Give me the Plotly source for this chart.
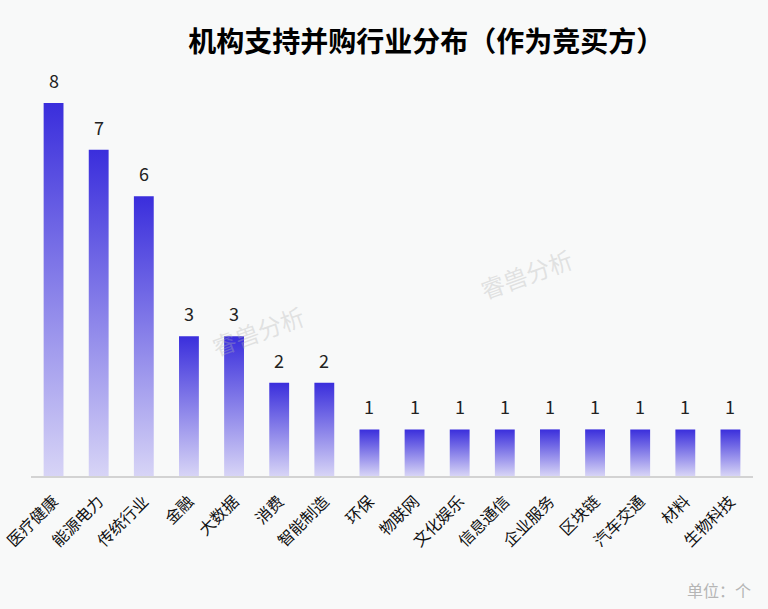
import plotly.graph_objects as go

# industry distribution of institutions acting as bidders
categories = ["医疗健康", "能源电力", "传统行业", "金融", "大数据", "消费", "智能制造", "环保",
              "物联网", "文化娱乐", "信息通信", "企业服务", "区块链", "汽车交通", "材料", "生物科技"]
counts = [8, 7, 6, 3, 3, 2, 2, 1, 1, 1, 1, 1, 1, 1, 1, 1]

bar_w = 0.44
top_color = "#3a2edc"
bottom_color = "#d7d4f6"
bg = "#f8f9f9"

fig = go.Figure()

# one filled trace per bar so the gradient runs over each bar separately
for i, v in enumerate(counts):
    x0, x1 = i - bar_w / 2, i + bar_w / 2
    fig.add_trace(go.Scatter(
        x=[x0, x1, x1, x0, x0],
        y=[0, 0, v, v, 0],
        mode="lines",
        fill="toself",
        line=dict(width=0),
        fillgradient=dict(type="vertical",
                          colorscale=[[0, bottom_color], [1, top_color]]),
        hoverinfo="skip",
        showlegend=False,
    ))

# value labels above the bars
for i, v in enumerate(counts):
    fig.add_annotation(
        x=i, y=v, xref="x", yref="y", yanchor="bottom", yshift=8,
        text=str(v), showarrow=False,
        font=dict(size=18, color="#222222", family="Noto Sans CJK SC"),
    )

# faint watermarks
for wx, wy in [(0.76, 0.50), (0.24, 0.27)]:
    fig.add_annotation(
        x=wx, y=wy, xref="paper", yref="paper",
        text="睿兽分析", showarrow=False, textangle=-20,
        font=dict(size=24, color="rgba(180,180,180,0.35)", family="Noto Sans CJK SC"),
    )

fig.add_annotation(
    x=1.0, y=-0.28, xref="paper", yref="paper", xanchor="right", yanchor="middle",
    text="单位：个", showarrow=False,
    font=dict(size=16, color="#b5b5b5", family="Noto Sans CJK SC"),
)

fig.update_layout(
    width=768,
    height=609,
    title=dict(
        text="<b>机构支持并购行业分布（作为竞买方）</b>",
        x=0.555, xanchor="center", y=0.931, yanchor="middle",
        font=dict(size=28, color="#000000", family="Noto Sans CJK SC"),
    ),
    paper_bgcolor=bg,
    plot_bgcolor=bg,
    margin=dict(l=31, r=15, t=70, b=133),
    font=dict(family="Noto Sans CJK SC"),
    xaxis=dict(
        range=[-0.5, len(counts) - 0.5],
        tickmode="array",
        tickvals=list(range(len(categories))),
        ticktext=categories,
        tickangle=-45,
        tickfont=dict(size=16, color="#111111"),
        ticklabeloverflow="allow",
        showgrid=False,
        zeroline=False,
        showline=True,
        linecolor="#d3d3d3",
        linewidth=1.5,
        ticks="outside",
        ticklen=8,
        tickcolor=bg,
        automargin=False,
    ),
    yaxis=dict(
        range=[0, 8.71],
        visible=False,
        showgrid=False,
        zeroline=False,
        automargin=False,
    ),
)

# drop the default page margin so the figure fills the window
fig.write_html(
    "out.html",
    config={"displayModeBar": False},
    post_script="document.body.style.margin='0';document.body.style.overflow='hidden';"
                "document.body.style.background='%s';" % bg,
)
